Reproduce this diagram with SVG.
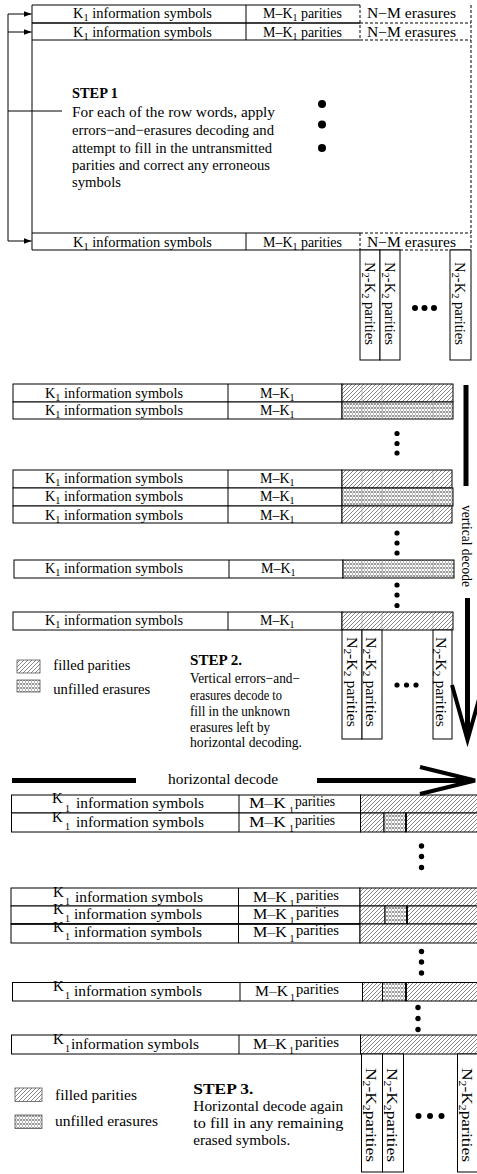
<svg xmlns="http://www.w3.org/2000/svg" width="477" height="1174" viewBox="0 0 477 1174">
<style>
text{font-family:"Liberation Serif","Times New Roman",serif;fill:#000}
.r{font-size:14px}
.r3{font-size:15px}
.st{font-size:15px}
.b{font-weight:bold}
.sub{font-size:10px}
.box{fill:#fff;stroke:#000;stroke-width:1}
.ln{stroke:#000;stroke-width:1;fill:none}
.dash{stroke:#000;stroke-width:1;stroke-dasharray:3,2;fill:none}
.hat{fill:url(#hatch);stroke:#000;stroke-width:1}
.crs{fill:url(#cross);stroke:#000;stroke-width:1}
.dot{fill:#000}
.thick{stroke:#000;stroke-width:5;fill:none}
.head{stroke:#000;stroke-width:4;fill:none;stroke-linejoin:miter}
.faint{stroke:#999;stroke-width:0.6;fill:none}
</style>
<defs>
<pattern id="hatch" patternUnits="userSpaceOnUse" width="4" height="4">
<rect width="4" height="4" fill="#fff"/>
<path d="M-1,1 L1,-1 M0,4 L4,0 M3,5 L5,3" stroke="#555" stroke-width="0.7"/>
</pattern>
<pattern id="cross" patternUnits="userSpaceOnUse" width="6" height="4">
<rect width="6" height="4" fill="#fff"/>
<path d="M0,0 Q1.5,2.5 3,0 Q4.5,2.5 6,0 M0,4 Q1.5,1.5 3,4 Q4.5,1.5 6,4" stroke="#444" stroke-width="0.6" fill="none"/>
</pattern>
<marker id="ah" markerUnits="userSpaceOnUse" markerWidth="8" markerHeight="6" refX="8" refY="3" orient="auto">
<path d="M0,0 L8,3 L0,6 z" fill="#000"/>
</marker>
</defs>

<!-- ================= SECTION 1 ================= -->
<g id="s1-frame">
<path class="ln" d="M32,5 H360 M32,5 V250 M246,5 V40 M246,233 V250 M32,40 H360 M32,233 H360 M32,250 H400 M450,250 H471"/>
<path class="ln" style="stroke-width:1.6" d="M32,23 H360"/>
<path class="dash" d="M360,5 V40 M360,233 V250 M360,23 H471 M360,40 H471 M360,233 H471 M400,250 H450 M471,5 V250"/>
</g>
<g id="s1-row1">
<text class="r" x="73" y="18.3" textLength="139" lengthAdjust="spacingAndGlyphs">K<tspan class="sub" dy="3">1</tspan><tspan dy="-3"> information symbols</tspan></text>
<text class="r" x="263" y="18.3" textLength="79" lengthAdjust="spacingAndGlyphs">M–K<tspan class="sub" dy="3">1</tspan><tspan dy="-3"> parities</tspan></text>
<text class="r" x="367" y="18.3" textLength="89" lengthAdjust="spacingAndGlyphs">N−M erasures</text>
</g>
<g id="s1-row2">
<text class="r" x="73" y="36.7" textLength="139" lengthAdjust="spacingAndGlyphs">K<tspan class="sub" dy="3">1</tspan><tspan dy="-3"> information symbols</tspan></text>
<text class="r" x="263" y="36.7" textLength="79" lengthAdjust="spacingAndGlyphs">M–K<tspan class="sub" dy="3">1</tspan><tspan dy="-3"> parities</tspan></text>
<text class="r" x="367" y="36.7" textLength="89" lengthAdjust="spacingAndGlyphs">N−M erasures</text>
</g>
<g id="s1-row3">
<text class="r" x="73" y="246.7" textLength="139" lengthAdjust="spacingAndGlyphs">K<tspan class="sub" dy="3">1</tspan><tspan dy="-3"> information symbols</tspan></text>
<text class="r" x="263" y="246.7" textLength="79" lengthAdjust="spacingAndGlyphs">M–K<tspan class="sub" dy="3">1</tspan><tspan dy="-3"> parities</tspan></text>
<text class="r" x="367" y="246.7" textLength="89" lengthAdjust="spacingAndGlyphs">N−M erasures</text>
</g>
<g id="s1-step">
<text class="b" style="font-size:14.5px" x="72" y="97.7" textLength="46" lengthAdjust="spacingAndGlyphs">STEP 1</text>
<text class="st" x="72" y="116.7" textLength="203" lengthAdjust="spacingAndGlyphs">For each of the row words, apply</text>
<text class="st" x="72" y="135" textLength="202" lengthAdjust="spacingAndGlyphs">errors−and−erasures decoding and</text>
<text class="st" x="72" y="153.3" textLength="200" lengthAdjust="spacingAndGlyphs">attempt to fill in the untransmitted</text>
<text class="st" x="72" y="170" textLength="198" lengthAdjust="spacingAndGlyphs">parities and correct any erroneous</text>
<text class="st" x="72" y="186.7" textLength="49" lengthAdjust="spacingAndGlyphs">symbols</text>
</g>
<g id="s1-dots">
<circle class="dot" cx="322" cy="104" r="4"/>
<circle class="dot" cx="322" cy="124.5" r="4"/>
<circle class="dot" cx="322" cy="148" r="4"/>
<circle class="dot" cx="415" cy="308" r="3"/>
<circle class="dot" cx="424.5" cy="308" r="3"/>
<circle class="dot" cx="434" cy="308" r="3"/>
</g>
<g id="s1-cols">
<rect class="box" x="360" y="250" width="20" height="110"/>
<rect class="box" x="380" y="250" width="20" height="110"/>
<rect class="box" x="450" y="250" width="21" height="110"/>
<text class="r" transform="translate(365,262) rotate(90)" textLength="83" lengthAdjust="spacingAndGlyphs">N<tspan class="sub" dy="3">2</tspan><tspan dy="-3">-K</tspan><tspan class="sub" dy="3">2</tspan><tspan dy="-3"> parities</tspan></text>
<text class="r" transform="translate(385,262) rotate(90)" textLength="83" lengthAdjust="spacingAndGlyphs">N<tspan class="sub" dy="3">2</tspan><tspan dy="-3">-K</tspan><tspan class="sub" dy="3">2</tspan><tspan dy="-3"> parities</tspan></text>
<text class="r" transform="translate(455,262) rotate(90)" textLength="83" lengthAdjust="spacingAndGlyphs">N<tspan class="sub" dy="3">2</tspan><tspan dy="-3">-K</tspan><tspan class="sub" dy="3">2</tspan><tspan dy="-3"> parities</tspan></text>
</g>

<!-- ================= SECTION 2 ================= -->
<g id="s2-rowA1">
<rect class="box" x="13" y="384" width="329" height="18"/><path class="ln" d="M228,384 V402"/>
<rect class="hat" x="342" y="384" width="111" height="18"/>
<text class="r" x="45" y="397.8" textLength="138" lengthAdjust="spacingAndGlyphs">K<tspan class="sub" dy="3">1</tspan><tspan dy="-3"> information symbols</tspan></text>
<text class="r" x="260" y="397.8">M–K<tspan class="sub" dy="3">1</tspan></text>
</g>
<g id="s2-rowA2">
<rect class="box" x="13" y="402" width="329" height="17"/><path class="ln" d="M228,402 V419"/>
<rect class="crs" x="342" y="402" width="111" height="17"/>
<text class="r" x="45" y="415" textLength="138" lengthAdjust="spacingAndGlyphs">K<tspan class="sub" dy="3">1</tspan><tspan dy="-3"> information symbols</tspan></text>
<text class="r" x="260" y="415">M–K<tspan class="sub" dy="3">1</tspan></text>
</g>
<g id="s2-rowB1">
<rect class="box" x="13" y="470" width="329" height="18"/><path class="ln" d="M228,470 V488"/>
<rect class="hat" x="342" y="470" width="110" height="18"/>
<text class="r" x="45" y="483" textLength="138" lengthAdjust="spacingAndGlyphs">K<tspan class="sub" dy="3">1</tspan><tspan dy="-3"> information symbols</tspan></text>
<text class="r" x="260" y="483">M–K<tspan class="sub" dy="3">1</tspan></text>
</g>
<g id="s2-rowB2">
<rect class="box" x="13" y="488" width="329" height="18"/><path class="ln" d="M228,488 V506"/>
<rect class="crs" x="342" y="488" width="111" height="18"/>
<text class="r" x="45" y="501" textLength="138" lengthAdjust="spacingAndGlyphs">K<tspan class="sub" dy="3">1</tspan><tspan dy="-3"> information symbols</tspan></text>
<text class="r" x="260" y="501">M–K<tspan class="sub" dy="3">1</tspan></text>
</g>
<g id="s2-rowB3">
<rect class="box" x="13" y="506" width="329" height="17"/><path class="ln" d="M228,506 V523"/>
<rect class="hat" x="342" y="506" width="110" height="17"/>
<text class="r" x="45" y="519.5" textLength="138" lengthAdjust="spacingAndGlyphs">K<tspan class="sub" dy="3">1</tspan><tspan dy="-3"> information symbols</tspan></text>
<text class="r" x="260" y="519.5">M–K<tspan class="sub" dy="3">1</tspan></text>
</g>
<g id="s2-rowC">
<rect class="box" x="14" y="560" width="329" height="18"/><path class="ln" d="M229,560 V578"/>
<rect class="crs" x="343" y="560" width="111" height="18"/>
<text class="r" x="45" y="573.3" textLength="138" lengthAdjust="spacingAndGlyphs">K<tspan class="sub" dy="3">1</tspan><tspan dy="-3"> information symbols</tspan></text>
<text class="r" x="261" y="573.3">M–K<tspan class="sub" dy="3">1</tspan></text>
</g>
<g id="s2-rowD">
<rect class="box" x="13" y="612" width="329" height="18"/><path class="ln" d="M228,612 V630"/>
<rect class="hat" x="342" y="612" width="111" height="18"/>
<text class="r" x="45" y="625" textLength="138" lengthAdjust="spacingAndGlyphs">K<tspan class="sub" dy="3">1</tspan><tspan dy="-3"> information symbols</tspan></text>
<text class="r" x="260" y="625">M–K<tspan class="sub" dy="3">1</tspan></text>
</g>
<g id="s2-faint">
<path class="faint" d="M362,384.5 V418.5 M382,384.5 V418.5 M433,384.5 V418.5 M362,470.5 V522.5 M382,470.5 V522.5 M433,470.5 V522.5 M362,560.5 V577.5 M382,560.5 V577.5 M433,560.5 V577.5 M362,612.5 V629.5 M382,612.5 V629.5 M433,612.5 V629.5"/>
</g>
<g id="s2-dots">
<circle class="dot" cx="397" cy="433.5" r="2.6"/>
<circle class="dot" cx="397" cy="443.5" r="2.6"/>
<circle class="dot" cx="397" cy="453" r="2.6"/>
<circle class="dot" cx="397" cy="533" r="2.6"/>
<circle class="dot" cx="397" cy="543" r="2.6"/>
<circle class="dot" cx="397" cy="553" r="2.6"/>
<circle class="dot" cx="397" cy="585" r="2.6"/>
<circle class="dot" cx="397" cy="595" r="2.6"/>
<circle class="dot" cx="397" cy="605.5" r="2.6"/>
<circle class="dot" cx="397" cy="685" r="2.6"/>
<circle class="dot" cx="406.5" cy="685" r="2.6"/>
<circle class="dot" cx="416" cy="685" r="2.6"/>
</g>
<g id="s2-cols">
<rect class="box" x="342" y="630" width="20" height="109"/>
<rect class="box" x="362" y="630" width="20" height="109"/>
<rect class="box" x="433" y="630" width="19" height="109"/>
<text class="r" transform="translate(347,637) rotate(90)" textLength="90" lengthAdjust="spacingAndGlyphs">N<tspan class="sub" dy="3">2</tspan><tspan dy="-3">-K</tspan><tspan class="sub" dy="3">2</tspan><tspan dy="-3"> parities</tspan></text>
<text class="r" transform="translate(366,637) rotate(90)" textLength="90" lengthAdjust="spacingAndGlyphs">N<tspan class="sub" dy="3">2</tspan><tspan dy="-3">-K</tspan><tspan class="sub" dy="3">2</tspan><tspan dy="-3"> parities</tspan></text>
<text class="r" transform="translate(436,637) rotate(90)" textLength="90" lengthAdjust="spacingAndGlyphs">N<tspan class="sub" dy="3">2</tspan><tspan dy="-3">-K</tspan><tspan class="sub" dy="3">2</tspan><tspan dy="-3"> parities</tspan></text>
</g>
<g id="s2-legend">
<rect class="hat" x="17" y="660" width="23" height="13" style="stroke:#555;stroke-width:0.8"/>
<rect class="crs" x="17" y="680" width="23" height="12" style="stroke:#555;stroke-width:0.8"/>
<text class="r" x="53.3" y="669.5" textLength="77" lengthAdjust="spacingAndGlyphs">filled parities</text>
<text class="r" x="53.3" y="693.5" textLength="97" lengthAdjust="spacingAndGlyphs">unfilled erasures</text>
</g>
<g id="s2-step">
<text class="r b" x="190" y="665" textLength="52" lengthAdjust="spacingAndGlyphs">STEP 2.</text>
<text class="r" x="190" y="683.3" textLength="110" lengthAdjust="spacingAndGlyphs">Vertical errors−and−</text>
<text class="r" x="190" y="700" textLength="92" lengthAdjust="spacingAndGlyphs">erasures decode to</text>
<text class="r" x="190" y="716" textLength="100" lengthAdjust="spacingAndGlyphs">fill in the unknown</text>
<text class="r" x="190" y="731.7" textLength="80" lengthAdjust="spacingAndGlyphs">erasures left by</text>
<text class="r" x="190" y="747.3" textLength="112" lengthAdjust="spacingAndGlyphs">horizontal decoding.</text>
</g>

<!-- ================= SECTION 3 ================= -->
<g id="s3-G1R1">
<rect class="box" x="11.5" y="795" width="349" height="18"/><path class="ln" d="M239,795 V813"/>
<rect class="hat" x="360.5" y="795" width="120" height="18"/>
<text class="r3" x="52" y="803.3">K</text><text class="sub" x="65" y="811.5">1</text>
<text class="r3" x="76" y="808.3" textLength="128" lengthAdjust="spacingAndGlyphs">information symbols</text>
<text class="r3" x="249" y="808.3" textLength="37" lengthAdjust="spacingAndGlyphs">M–K</text><text class="sub" x="289" y="813.5">1</text>
<text class="r3" x="295" y="806.3" textLength="40" lengthAdjust="spacingAndGlyphs">parities</text>
</g>
<g id="s3-G1R2">
<rect class="box" x="11.5" y="813" width="349" height="19"/><path class="ln" d="M239,813 V832"/>
<rect class="hat" x="360.5" y="813" width="23.5" height="19"/>
<rect class="crs" x="384" y="813" width="22" height="19"/>
<rect class="hat" x="406" y="813" width="74" height="19"/>
<path class="ln" style="stroke-width:1.8" d="M406,813 V832"/>
<text class="r3" x="52" y="821.5">K</text><text class="sub" x="65" y="829.5">1</text>
<text class="r3" x="76" y="826.5" textLength="128" lengthAdjust="spacingAndGlyphs">information symbols</text>
<text class="r3" x="249" y="826.5" textLength="37" lengthAdjust="spacingAndGlyphs">M–K</text><text class="sub" x="289" y="831.5">1</text>
<text class="r3" x="295" y="824.5" textLength="40" lengthAdjust="spacingAndGlyphs">parities</text>
</g>
<g id="s3-G2R1">
<rect class="box" x="11" y="888" width="349" height="18"/><path class="ln" d="M238.5,888 V906"/>
<rect class="hat" x="360" y="888" width="120" height="18"/>
<text class="r3" x="53" y="896.5">K</text><text class="sub" x="65" y="904.5">1</text>
<text class="r3" x="75" y="901.5" textLength="128" lengthAdjust="spacingAndGlyphs">information symbols</text>
<text class="r3" x="253" y="901.5" textLength="34" lengthAdjust="spacingAndGlyphs">M–K</text><text class="sub" x="289.5" y="906.5">1</text>
<text class="r3" x="296" y="899.5" textLength="43" lengthAdjust="spacingAndGlyphs">parities</text>
</g>
<g id="s3-G2R2">
<rect class="box" x="11" y="906" width="349" height="18"/><path class="ln" d="M238.5,906 V924"/>
<rect class="hat" x="360" y="906" width="25" height="18"/>
<rect class="crs" x="385" y="906" width="22" height="18"/>
<rect class="hat" x="407" y="906" width="73" height="18"/>
<path class="ln" style="stroke-width:1.8" d="M407,906 V924"/>
<text class="r3" x="53" y="914">K</text><text class="sub" x="65" y="922">1</text>
<text class="r3" x="74" y="919" textLength="128" lengthAdjust="spacingAndGlyphs">information symbols</text>
<text class="r3" x="253" y="919" textLength="34" lengthAdjust="spacingAndGlyphs">M–K</text><text class="sub" x="289.5" y="924">1</text>
<text class="r3" x="296" y="917" textLength="43" lengthAdjust="spacingAndGlyphs">parities</text>
</g>
<g id="s3-G2R3">
<rect class="box" x="11" y="924" width="349" height="19"/><path class="ln" style="stroke-width:1.6" d="M11,924 H360"/><path class="ln" d="M238.5,924 V943"/>
<rect class="hat" x="360" y="924" width="120" height="19"/>
<text class="r3" x="53" y="932">K</text><text class="sub" x="65" y="940">1</text>
<text class="r3" x="74" y="937" textLength="128" lengthAdjust="spacingAndGlyphs">information symbols</text>
<text class="r3" x="253" y="937" textLength="34" lengthAdjust="spacingAndGlyphs">M–K</text><text class="sub" x="289.5" y="942">1</text>
<text class="r3" x="296" y="935" textLength="43" lengthAdjust="spacingAndGlyphs">parities</text>
</g>
<g id="s3-G3">
<rect class="box" x="12.5" y="982.5" width="350" height="18.5"/><path class="ln" d="M240,982.5 V1001"/>
<rect class="hat" x="362.5" y="982.5" width="20" height="18.5"/>
<rect class="crs" x="382.5" y="982.5" width="23.5" height="18.5"/>
<rect class="hat" x="406" y="982.5" width="74" height="18.5"/>
<path class="ln" style="stroke-width:1.8" d="M406,982.5 V1001"/>
<text class="r3" x="53" y="991">K</text><text class="sub" x="65" y="999">1</text>
<text class="r3" x="74" y="996" textLength="128" lengthAdjust="spacingAndGlyphs">information symbols</text>
<text class="r3" x="255" y="996" textLength="33" lengthAdjust="spacingAndGlyphs">M–K</text><text class="sub" x="290" y="1001">1</text>
<text class="r3" x="296" y="994" textLength="43" lengthAdjust="spacingAndGlyphs">parities</text>
</g>
<g id="s3-G4">
<rect class="box" x="11.5" y="1035" width="349" height="19"/><path class="ln" d="M239,1035 V1054"/>
<rect class="hat" x="360.5" y="1035" width="120" height="19"/>
<text class="r3" x="53" y="1043.5">K</text><text class="sub" x="65" y="1051.5">1</text>
<text class="r3" x="71" y="1048.5" textLength="128" lengthAdjust="spacingAndGlyphs">information symbols</text>
<text class="r3" x="253" y="1048.5" textLength="34" lengthAdjust="spacingAndGlyphs">M–K</text><text class="sub" x="289" y="1053.5">1</text>
<text class="r3" x="295" y="1046.5" textLength="44" lengthAdjust="spacingAndGlyphs">parities</text>
</g>
<g id="s3-dots">
<circle class="dot" cx="421.5" cy="846" r="2.7"/>
<circle class="dot" cx="421.5" cy="856.5" r="2.7"/>
<circle class="dot" cx="421.5" cy="867.5" r="2.7"/>
<circle class="dot" cx="421.5" cy="951.5" r="2.7"/>
<circle class="dot" cx="421.5" cy="962" r="2.7"/>
<circle class="dot" cx="421.5" cy="973" r="2.7"/>
<circle class="dot" cx="418" cy="1007.5" r="2.7"/>
<circle class="dot" cx="418" cy="1018.5" r="2.7"/>
<circle class="dot" cx="418" cy="1029.5" r="2.7"/>
<circle class="dot" cx="418.5" cy="1116" r="3"/>
<circle class="dot" cx="430" cy="1116" r="3"/>
<circle class="dot" cx="441.5" cy="1116" r="3"/>
</g>
<g id="s3-cols">
<rect class="box" x="361.5" y="1054" width="21" height="118"/>
<rect class="box" x="382.5" y="1054" width="21" height="118"/>
<rect class="box" x="457.5" y="1054" width="25" height="118"/>
<text class="r3" transform="translate(366,1068) rotate(90)" textLength="94" lengthAdjust="spacingAndGlyphs">N<tspan class="sub" dy="3">2</tspan><tspan dy="-3">-K</tspan><tspan class="sub" dy="3">2</tspan><tspan dy="-3">parities</tspan></text>
<text class="r3" transform="translate(387,1068) rotate(90)" textLength="94" lengthAdjust="spacingAndGlyphs">N<tspan class="sub" dy="3">2</tspan><tspan dy="-3">-K</tspan><tspan class="sub" dy="3">2</tspan><tspan dy="-3">parities</tspan></text>
<text class="r3" transform="translate(462,1068) rotate(90)" textLength="94" lengthAdjust="spacingAndGlyphs">N<tspan class="sub" dy="3">2</tspan><tspan dy="-3">-K</tspan><tspan class="sub" dy="3">2</tspan><tspan dy="-3">parities</tspan></text>
</g>
<g id="s3-legend">
<rect class="hat" x="15" y="1088" width="27" height="13.5" style="stroke:#555;stroke-width:0.8"/>
<rect class="crs" x="15" y="1115" width="27" height="13.5" style="stroke:#555;stroke-width:0.8"/>
<text class="r3" x="55" y="1099.5" textLength="82" lengthAdjust="spacingAndGlyphs">filled parities</text>
<text class="r3" x="55" y="1126" textLength="103" lengthAdjust="spacingAndGlyphs">unfilled erasures</text>
</g>
<g id="s3-step">
<text class="r3 b" x="193.3" y="1094" textLength="60" lengthAdjust="spacingAndGlyphs">STEP 3.</text>
<text class="r3" x="193.3" y="1111" textLength="150" lengthAdjust="spacingAndGlyphs">Horizontal decode again</text>
<text class="r3" x="193.3" y="1127.5" textLength="150" lengthAdjust="spacingAndGlyphs">to fill in any remaining</text>
<text class="r3" x="193.3" y="1145" textLength="97" lengthAdjust="spacingAndGlyphs">erased symbols.</text>
</g>

<!-- ================= CONNECTORS ================= -->
<g id="connectors">
<path class="ln" d="M8,14 V241 M8,111 H62"/>
<path class="ln" marker-end="url(#ah)" d="M8,14 H31.5"/>
<path class="ln" marker-end="url(#ah)" d="M8,32 H31.5"/>
<path class="ln" marker-end="url(#ah)" d="M8,241 H31.5"/>
<path class="thick" d="M466,385 V486"/>
<text class="r" transform="translate(462,505) rotate(90)" textLength="82" lengthAdjust="spacingAndGlyphs">vertical decode</text>
<path class="thick" d="M467.5,598 V736"/>
<path class="head" d="M452,685 L467.5,740 L483,685"/>
<path class="thick" d="M12,780.5 H136"/>
<text class="r3" x="168" y="784" textLength="110" lengthAdjust="spacingAndGlyphs">horizontal decode</text>
<path class="thick" d="M317,780.5 H471"/>
<path class="head" d="M420,767 L475,780.5 L420,794"/>
</g>
</svg>
